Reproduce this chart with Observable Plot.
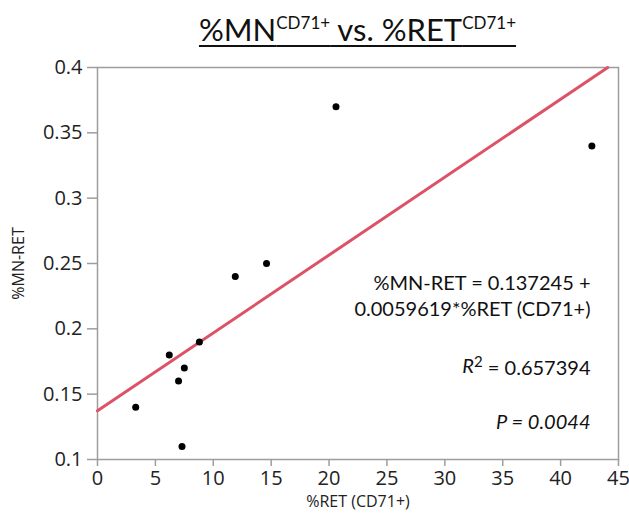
<!DOCTYPE html>
<html>
<head>
<meta charset="utf-8">
<script src="https://cdn.jsdelivr.net/npm/d3@7"></script>
<script src="https://cdn.jsdelivr.net/npm/@observablehq/plot@0.6"></script>
<style>
  body { margin: 0; background: #fff; }
  #title {
    height: 50px; width: 629px; box-sizing: border-box;
    padding-left: 97px; padding-right: 11px; padding-top: 8px;
    text-align: center; font-family: Lato, sans-serif; font-size: 31px;
    line-height: 30px; color: #111; overflow: hidden;
  }
  #title .u { text-decoration: underline; text-decoration-thickness: 2px; text-underline-offset: 4px; }
  #title .sup { font-size: 17px; vertical-align: 12px; }
</style>
</head>
<body>
<div id="title"><span class="u">%MN<span class="sup">CD71+</span> vs. %RET<span class="sup">CD71+</span></span></div>
<div id="chart"></div>
<script>
// ---- data ----
const retPct = [3.3, 6.2, 7.0, 7.5, 7.3, 8.8, 11.9, 14.6, 20.6, 42.7];
const mnRet  = [0.14, 0.18, 0.16, 0.17, 0.11, 0.19, 0.24, 0.25, 0.37, 0.34];
const fitIntercept = 0.137245;
const fitSlope = 0.0059619;
const xTicks = [0, 5, 10, 15, 20, 25, 30, 35, 40, 45];
const yTicks = [0.1, 0.15, 0.2, 0.25, 0.3, 0.35, 0.4];
const yTickLabels = ["0.1", "0.15", "0.2", "0.25", "0.3", "0.35", "0.4"];
const xLabel = "%RET (CD71+)";
const yLabel = "%MN-RET";
const eqLine1 = "%MN-RET = 0.137245 +";
const eqLine2 = "0.0059619*%RET (CD71+)";
const r2Text = "R2 = 0.657394";
const pText = "P = 0.0044";

const points = retPct.map((x, i) => ({x, y: mnRet[i]}));
const yMax = d3.max(yTicks);
const xMin = d3.min(xTicks);
const fitLine = [xMin, (yMax - fitIntercept) / fitSlope].map(x => ({x, y: fitIntercept + fitSlope * x}));

const grey = "#9d9d9d";
const annFont = "Lato, sans-serif";

const chart = Plot.plot({
  width: 629, height: 465,
  marginLeft: 97, marginRight: 11, marginTop: 17, marginBottom: 56,
  style: {fontFamily: "'Open Sans', sans-serif", fontSize: "20px", color: "#222", background: "#fff", overflow: "visible"},
  x: {domain: [d3.min(xTicks), d3.max(xTicks)], label: null},
  y: {domain: [d3.min(yTicks), d3.max(yTicks)], label: null},
  marks: [
    Plot.frame({stroke: grey, strokeWidth: 1.5}),
    Plot.axisX({ticks: xTicks, tickSize: 7, tickPadding: 4, stroke: grey, strokeWidth: 1.5, label: null, fontSize: 20}),
    Plot.axisY({ticks: yTicks, tickSize: 10, tickPadding: 5, stroke: grey, strokeWidth: 1.5, label: null, fontSize: 20,
      tickFormat: d => yTickLabels[yTicks.indexOf(d)]}),
    Plot.text([xLabel], {frameAnchor: "bottom", dy: 47, textAnchor: "middle", fontSize: 16, fill: "#222"}),
    Plot.text([yLabel], {frameAnchor: "left", dx: -79, rotate: -90, textAnchor: "middle", fontSize: 16, fill: "#222"}),
    Plot.line(fitLine, {x: "x", y: "y", stroke: "#dc5266", strokeWidth: 3}),
    Plot.dot(points, {x: "x", y: "y", r: 3.5, fill: "#000", stroke: "none"}),
    Plot.text([eqLine1], {frameAnchor: "top-right", dx: -28, dy: 208, textAnchor: "end", fontSize: 20, fontFamily: annFont, fill: "#111"}),
    Plot.text([eqLine2], {frameAnchor: "top-right", dx: -28, dy: 234, textAnchor: "end", fontSize: 20, fontFamily: annFont, fill: "#111"}),
    Plot.text([r2Text], {frameAnchor: "top-right", dx: -28, dy: 291, textAnchor: "end", fontSize: 20, fontFamily: annFont, fill: "#111"}),
    Plot.text([pText], {frameAnchor: "top-right", dx: -28, dy: 347, textAnchor: "end", fontSize: 20, fontFamily: annFont, fill: "#111", fontStyle: "italic"})
  ]
});
document.getElementById("chart").appendChild(chart);

// R² formatting: italic R with superscript 2
d3.select(chart).selectAll("text").filter(function() { return this.textContent === r2Text; }).each(function() {
  const t = d3.select(this);
  const parts = r2Text.split(" = ");
  t.text(null);
  t.append("tspan").attr("font-style", "italic").text(parts[0][0]);
  t.append("tspan").attr("dy", "-0.4em").attr("font-size", "0.75em").text(parts[0].slice(1));
  t.append("tspan").attr("dy", "0.4em").text(" = " + parts[1]);
});
</script>
</body>
</html>
